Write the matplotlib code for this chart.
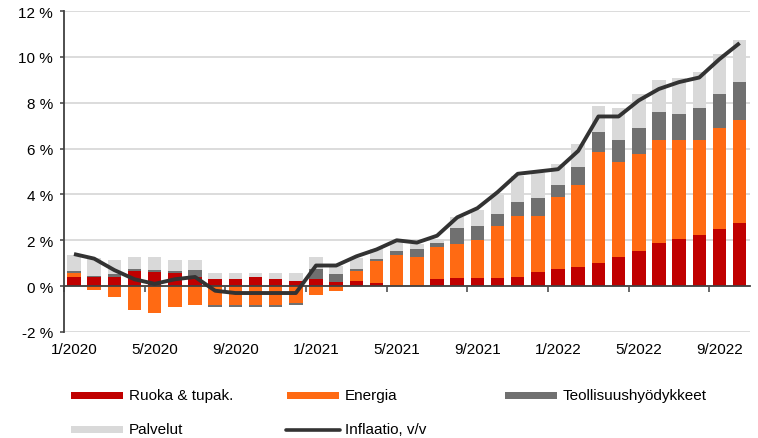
import matplotlib
matplotlib.use("Agg")
import matplotlib.pyplot as plt
import numpy as np
from matplotlib.patches import Rectangle
from matplotlib.lines import Line2D

plt.rcParams['font.family'] = ['Liberation Sans', 'DejaVu Sans']

# ---- data -------------------------------------------------------------
months = [f"{m}/{y}" for y in (2020, 2021, 2022) for m in range(1, 13)][:34]

ruoka = [0.39, 0.39, 0.39, 0.64, 0.63, 0.57, 0.39, 0.30, 0.30, 0.40, 0.30, 0.22,
         0.30, 0.20, 0.22, 0.13, 0.00, 0.00, 0.31, 0.36, 0.37, 0.37, 0.42, 0.62,
         0.74, 0.83, 1.00, 1.26, 1.52, 1.87, 2.04, 2.22, 2.48, 2.74]
energia = [0.19, -0.15, -0.48, -1.02, -1.19, -0.92, -0.84, -0.82, -0.83, -0.83, -0.83, -0.73,
           -0.39, -0.22, 0.45, 0.98, 1.35, 1.27, 1.40, 1.48, 1.66, 2.26, 2.65, 2.45,
           3.13, 3.57, 4.87, 4.17, 4.26, 4.52, 4.35, 4.17, 4.43, 4.52]
teollisuus = [0.07, 0.07, 0.16, 0.09, 0.07, 0.07, 0.33, -0.08, -0.08, -0.08, -0.08, -0.09,
              0.44, 0.35, 0.09, 0.09, 0.17, 0.35, 0.17, 0.69, 0.61, 0.52, 0.61, 0.78,
              0.52, 0.78, 0.87, 0.96, 1.13, 1.22, 1.13, 1.39, 1.48, 1.65]
palvelut = [0.70, 0.77, 0.61, 0.52, 0.55, 0.52, 0.44, 0.26, 0.26, 0.16, 0.26, 0.35,
            0.51, 0.33, 0.45, 0.42, 0.40, 0.20, 0.17, 0.47, 0.70, 0.83, 1.13, 1.10,
            0.93, 1.03, 1.12, 1.38, 1.46, 1.38, 1.55, 1.55, 1.72, 1.81]
inflaatio = [1.4, 1.2, 0.7, 0.3, 0.1, 0.3, 0.4, -0.2, -0.3, -0.3, -0.3, -0.3,
             0.9, 0.9, 1.3, 1.6, 2.0, 1.9, 2.2, 3.0, 3.4, 4.1, 4.9, 5.0,
             5.1, 5.9, 7.4, 7.4, 8.1, 8.6, 8.9, 9.1, 9.9, 10.6]

series_names = ["Ruoka & tupak.", "Energia", "Teollisuushyödykkeet", "Palvelut"]
line_name = "Inflaatio, v/v"
yticks = [-2, 0, 2, 4, 6, 8, 10, 12]

# ---- style ------------------------------------------------------------
colors = ["#C00000", "#FF6A13", "#707070", "#D9D9D9"]
line_color = "#333333"
axis_color = "#404040"
grid_color = "#D9D9D9"
FS = 11

W, H = 758, 439
fig = plt.figure(figsize=(W / 100, H / 100), dpi=100)
ax = fig.add_axes([63.9 / W, 106 / H, (749.7 - 63.9) / W, (427 - 106) / H])

n = len(months)
x = np.arange(n)
pos_base = np.zeros(n)
neg_base = np.zeros(n)
for vals, col in zip([ruoka, energia, teollisuus, palvelut], colors):
    v = np.array(vals, dtype=float)
    bottom = np.where(v >= 0, pos_base, neg_base)
    ax.bar(x, v, width=0.67, bottom=bottom, color=col, linewidth=0, zorder=2)
    pos_base += np.where(v > 0, v, 0)
    neg_base += np.where(v < 0, v, 0)

ax.plot(x, inflaatio, color=line_color, lw=2.8, zorder=4, solid_capstyle='butt')

ax.set_xlim(-0.5, n - 0.5)
ax.set_ylim(-2, 12)

# y axis
ax.set_yticks(yticks)
ax.set_yticklabels([f"{v} %" for v in yticks], fontsize=FS)
ax.yaxis.grid(True, color=grid_color, lw=1.3, zorder=0)
ax.set_axisbelow(True)
ax.tick_params(axis='y', direction='out', length=3, width=1.1, color=axis_color, pad=5)

# x axis at zero
for s in ("top", "right"):
    ax.spines[s].set_visible(False)
ax.spines['left'].set_color(axis_color)
ax.spines['left'].set_linewidth(1.3)
ax.spines['bottom'].set_position(('data', 0))
ax.spines['bottom'].set_color(axis_color)
ax.spines['bottom'].set_linewidth(1.3)
ax.spines['bottom'].set_zorder(3)

ax.set_xticks(np.arange(-0.5, n, 4))
ax.set_xticklabels([])
ax.set_xticks(np.arange(0, n, 4), minor=True)
ax.set_xticklabels([months[i] for i in range(0, n, 4)], minor=True, fontsize=FS)
ax.tick_params(axis='x', which='major', direction='out', length=4, width=1.1, color=axis_color)
ax.tick_params(axis='x', which='minor', length=0, pad=40)

# ---- legend (manual layout) ------------------------------------------
def fy(py):
    return (H - py) / H

rows = [396.3, 430.5]
cols = [71, 287, 505]
entries = [
    (0, 0, "patch", colors[0], series_names[0]),
    (0, 1, "patch", colors[1], series_names[1]),
    (0, 2, "patch", colors[2], series_names[2]),
    (1, 0, "patch", colors[3], series_names[3]),
    (1, 1, "line", line_color, line_name),
]
for r, c, kind, col, label in entries:
    x0 = cols[c]
    yc = rows[r]
    if kind == "patch":
        fig.add_artist(Rectangle((x0 / W, fy(yc + 3.6)), 52 / W, 7.2 / H,
                                 transform=fig.transFigure, color=col, lw=0))
    else:
        fig.add_artist(Line2D([(x0 - 1) / W, (x0 + 53) / W], [fy(yc), fy(yc)],
                              transform=fig.transFigure, color=col, lw=2.6,
                              solid_capstyle='round'))
    fig.text((x0 + 58) / W, fy(yc), label, fontsize=FS, va='center', ha='left',
             color="#000000")

fig.savefig("out.png", dpi=100)
